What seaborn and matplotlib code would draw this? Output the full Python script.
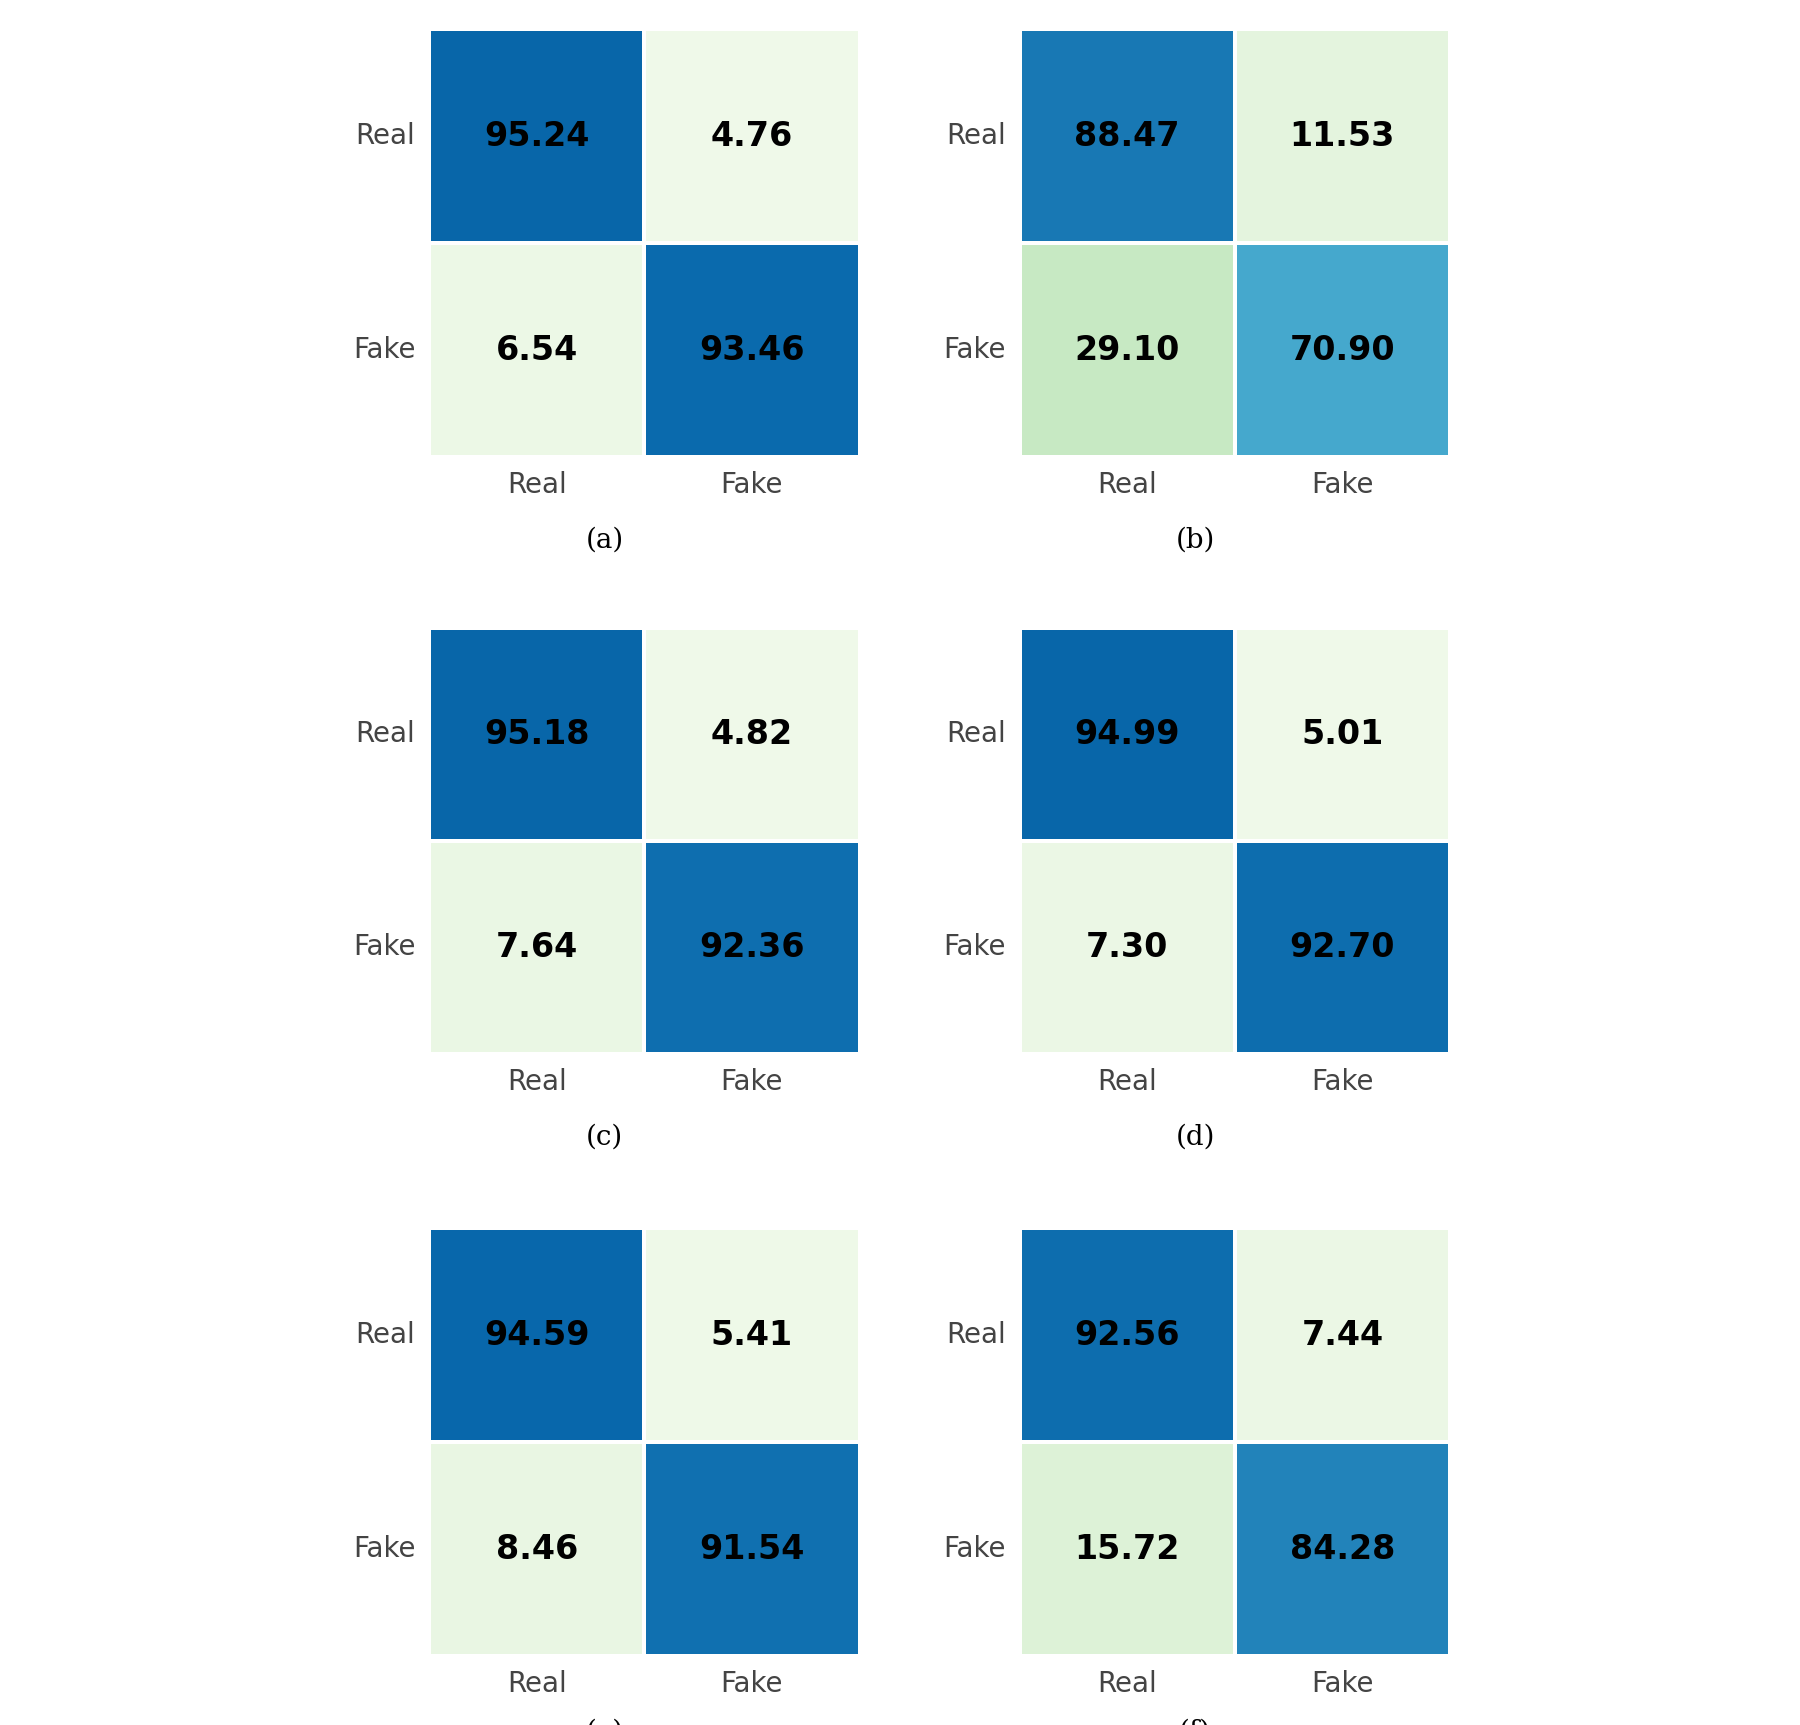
import matplotlib

matplotlib.use("Agg")
import matplotlib.pyplot as plt
import numpy as np
import seaborn as sns

labels = ["Real", "Fake"]
captions = ["(a)", "(b)", "(c)", "(d)", "(e)", "(f)"]
matrix_a = [[95.24, 4.76], [6.54, 93.46]]
matrix_b = [[88.47, 11.53], [29.10, 70.90]]
matrix_c = [[95.18, 4.82], [7.64, 92.36]]
matrix_d = [[94.99, 5.01], [7.30, 92.70]]
matrix_e = [[94.59, 5.41], [8.46, 91.54]]
matrix_f = [[92.56, 7.44], [15.72, 84.28]]
matrices = [matrix_a, matrix_b, matrix_c, matrix_d, matrix_e, matrix_f]

fig = plt.figure(figsize=(18, 17.25), dpi=100)
lefts = [0.2385, 0.5665]
width = 0.239
rows = [(0.735, 0.248), (0.389, 0.247), (0.040, 0.248)]
caption_y = [0.687, 0.341, -0.004]

for i, mat in enumerate(matrices):
    r, c = divmod(i, 2)
    bottom, height = rows[r]
    ax = fig.add_axes([lefts[c], bottom, width, height])
    sns.heatmap(
        np.array(mat),
        ax=ax,
        cmap="GnBu",
        vmin=0,
        vmax=108,
        annot=True,
        fmt=".2f",
        cbar=False,
        linewidths=1.5,
        linecolor="white",
        annot_kws={"fontsize": 24, "fontweight": "bold", "color": "black"},
        xticklabels=labels,
        yticklabels=labels,
    )
    ax.tick_params(axis="both", length=0, labelsize=20, labelcolor="#444444", pad=10)
    ax.set_yticklabels(labels, rotation=0)
    fig.text(lefts[c] + width / 2 - 0.022, caption_y[r], captions[i], ha="center", va="center",
             fontsize=20, family="DejaVu Serif")

fig.savefig("out.png", dpi=100)
plt.close(fig)
